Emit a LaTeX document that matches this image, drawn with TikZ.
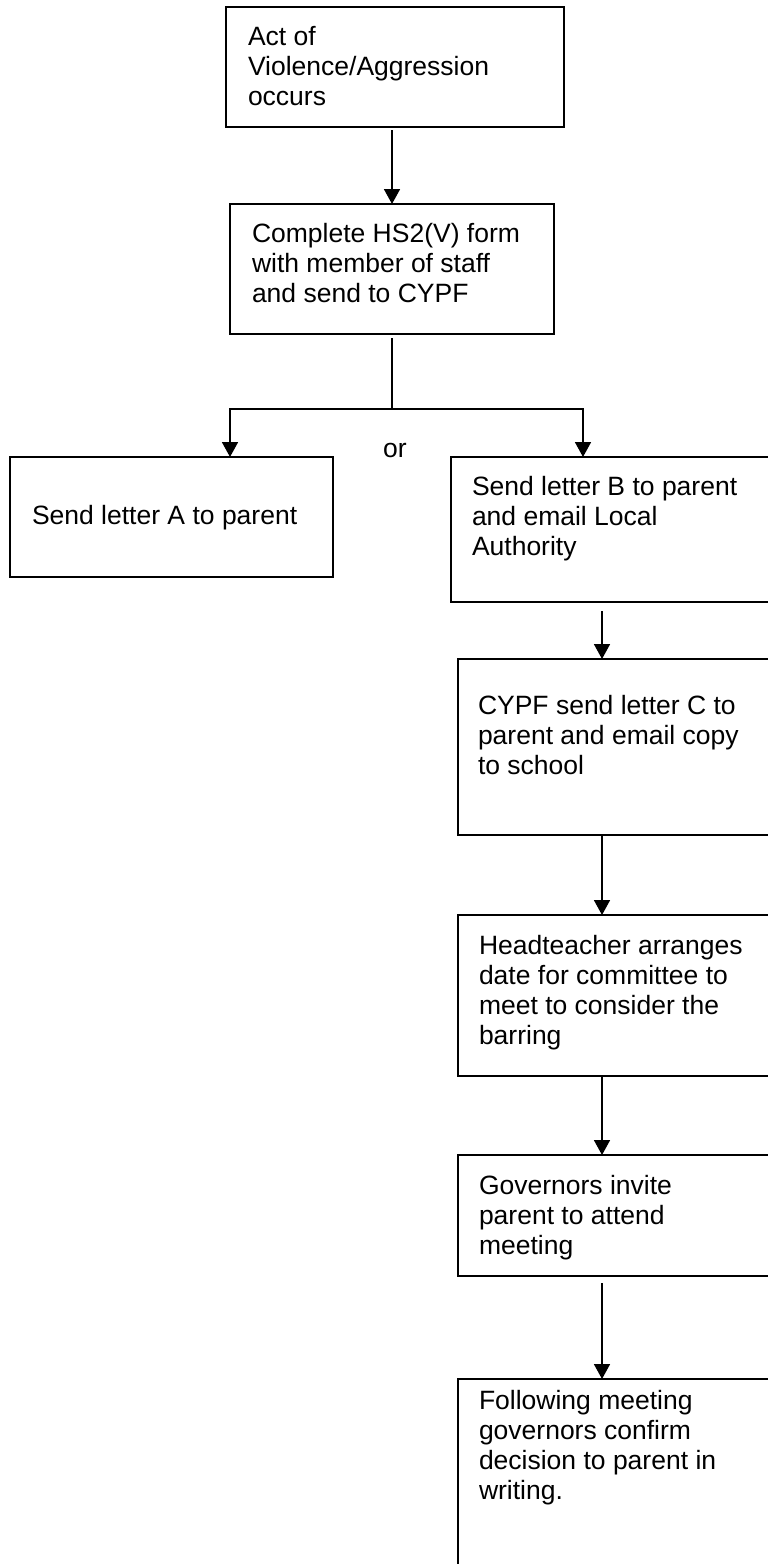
\documentclass[tikz,border=0pt]{standalone}
\usepackage{fontspec}
\setmainfont{Liberation Sans}
\usetikzlibrary{arrows.meta}
\begin{document}
\begin{tikzpicture}[x=1pt, y=-1pt,
      box/.style={draw, line width=1.6pt, rectangle, anchor=north west, inner sep=0pt, outer sep=0pt},
      txt/.style={anchor=north west, inner sep=0pt, outer sep=0pt, align=left, font=\fontsize{26.5}{30}\selectfont},
      link/.style={line width=1.8pt},
      arr/.style={link, -{Triangle[length=15pt, width=16pt]}}]
      \useasboundingbox (0,0) rectangle (768,1564);
      \clip (0,0) rectangle (768,1564);
      \def \Boxes {
         act/226/7/338/120/22/19/{Act of\\Violence/Aggression\\occurs},
         form/230/204/324/130/22/19/{Complete HS2(V) form\\with member of staff\\and send to CYPF},
         letA/10/457/323/120/22/48/{Send letter A to parent},
         letB/451/457/330/145/21/19/{Send letter B to parent\\and email Local\\Authority},
         letC/458/659/330/176/20/36/{CYPF send letter C to\\parent and email copy\\to school},
         head/458/915/330/161/21/20/{Headteacher arranges\\date for committee to\\meet to consider the\\barring},
         gov/458/1155/330/121/21/20/{Governors invite\\parent to attend\\meeting},
         conf/458/1379/330/200/21/11/{Following meeting\\governors confirm\\decision to parent in\\writing.}}
      \def \Steps {
         letB/letC/9,
         letC/head/0,
         head/gov/0,
         gov/conf/7}
      \foreach \u / \x / \y / \w / \h / \dx / \dy / \lbl in \Boxes {
         \node[box, minimum width=\w pt, minimum height=\h pt] (\u) at (\x, \y) {};
         \node[txt] (\u-text) at ([shift={(\dx, \dy)}]\u.north west) {\lbl};
      }
      \coordinate (col) at (602, 0);
      \coordinate (split) at (392, 409);
      \coordinate (toA) at (230, 457);
      \coordinate (toB) at (583, 457);
      \draw[arr, shorten <=3pt] (form.north |- act.south) -- (form.north);
      \draw[link, shorten <=4pt] (form.south) -- (split);
      \draw[arr] (split) -| (toA);
      \draw[arr] (split) -| (toB);
      \node[txt, anchor=base] (or) at (395, 457) {or};
      \foreach \u / \v / \g in \Steps {
         \draw[arr, shorten <=\g pt] (col |- \u.south) -- (col |- \v.north);
      }
   \end{tikzpicture}
\end{document}
